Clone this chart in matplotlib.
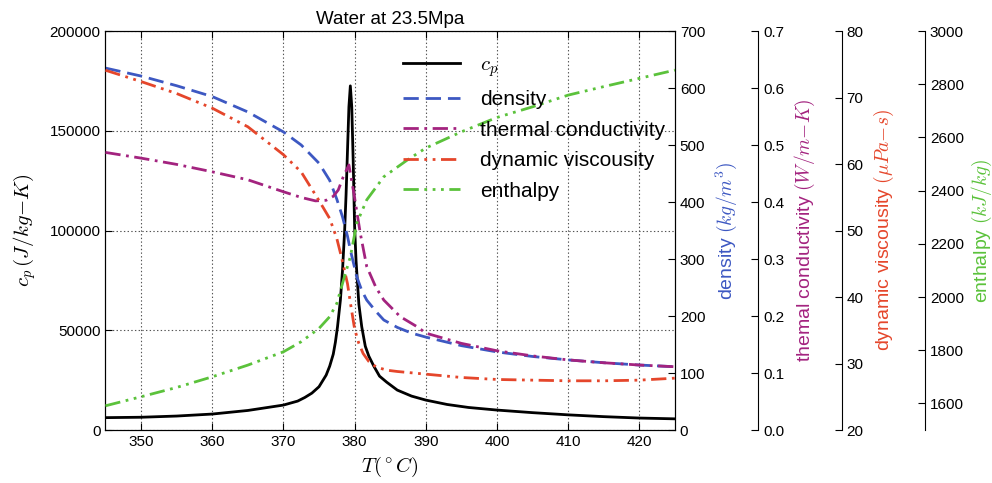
import matplotlib
matplotlib.use("Agg")
import matplotlib.pyplot as plt

plt.rcParams['font.family'] = ['Liberation Sans', 'DejaVu Sans']
plt.rcParams['mathtext.fontset'] = 'cm'
plt.rcParams['lines.scale_dashes'] = False

# ---------------- data ----------------
T_cp = [345, 350, 355, 360, 365, 370, 372, 373, 374, 375, 376, 376.5, 377, 377.3, 377.6,
        378, 378.3, 378.6, 378.8, 379.0, 379.2, 379.4, 379.6, 379.8, 380.0, 380.2, 380.6,
        381.0, 381.5, 382, 382.7, 383.5, 384.5, 386, 388, 390, 393, 396, 400, 405, 410,
        415, 420, 425]
cp = [6200, 6400, 7000, 8000, 9800, 12500, 14500, 16300, 18500, 21700, 27500, 32000,
      38000, 44000, 51800, 65000, 80000, 100000, 118000, 140000, 162000, 172500, 162000,
      135000, 102000, 85000, 63000, 51800, 42000, 37000, 32000, 27000, 24000, 20000,
      17000, 15000, 12800, 11300, 10000, 8700, 7600, 6700, 6000, 5600]

T_rho = [345, 350, 355, 360, 365, 370, 372.5, 375, 376.5, 377.5, 378.3, 379, 379.4,
         380.3, 381, 381.7, 383, 384.1, 386, 388, 390, 395, 400, 405, 410, 415, 420, 425]
density = [635, 621, 604, 585, 558, 523, 500, 468, 438, 405, 374, 340, 316,
           269, 245, 228, 208, 193, 180, 170, 163, 148, 137, 129, 123, 118, 114, 111]

T_k = [345, 350, 355, 360, 365, 370, 372.5, 374.5, 376, 377, 377.7, 378.4, 379.2,
       379.9, 380.8, 381.7, 383, 384.1, 386.4, 388.8, 390, 395, 400, 405, 410, 415, 420, 425]
conductivity = [0.487, 0.477, 0.466, 0.453, 0.439, 0.418, 0.408, 0.402, 0.403, 0.410,
                0.421, 0.444, 0.465, 0.415, 0.345, 0.287, 0.250, 0.228, 0.199, 0.181,
                0.170, 0.152, 0.139, 0.130, 0.123, 0.118, 0.114, 0.111]

T_mu = [345, 350, 355, 360, 365, 370, 372.5, 375, 376.5, 377.5, 378.2, 379, 379.5, 380,
        380.6, 381.2, 382, 383, 384.5, 386, 388, 390, 395, 400, 405, 410, 415, 420, 425]
viscosity = [74.1, 72.4, 70.6, 68.4, 65.6, 61.4, 58.8, 54.5, 51.8, 48.8, 45.8, 42.0,
             38.5, 35.2, 33.0, 31.5, 30.3, 29.5, 29.0, 28.8, 28.6, 28.4, 27.9, 27.6,
             27.5, 27.4, 27.4, 27.5, 27.8]

T_h = [345, 350, 355, 360, 365, 370, 372.5, 375, 376.5, 377.5, 378.5, 379.4, 380.3,
       381.7, 384.1, 387.4, 390, 395, 400, 405, 410, 415, 420, 425]
enthalpy = [1591, 1625, 1660, 1700, 1744, 1794, 1832, 1882, 1926, 1976, 2070, 2151,
            2277, 2365, 2452, 2515, 2560, 2621, 2675, 2715, 2759, 2791, 2822, 2853]

xticks = [350, 360, 370, 380, 390, 400, 410, 420]

# ---------------- colours / styles ----------------
c_rho = '#3d58c2'
c_k = '#a3237f'
c_mu = '#e5462b'
c_h = '#5bc23b'
LW = 2.0

fig = plt.figure(figsize=(9.92, 4.83), dpi=100)
ax = fig.add_axes([0.1063, 0.1097, 0.5741, 0.8261])

l_cp, = ax.plot(T_cp, cp, color='black', lw=LW, label='$c_p$')
ax.set_xlim(345, 425)
ax.set_ylim(0, 200000)
ax.set_xticks(xticks)
ax.set_yticks([0, 50000, 100000, 150000, 200000])
ax.set_xlabel(r'$T(^\circ C)$', fontsize=15)
ax.set_ylabel(r'$c_p\,(J/kg{-}K)$', fontsize=15, labelpad=8)
ax.set_title('Water at 23.5Mpa', fontsize=13.5, pad=5)
ax.grid(True, linestyle=':', color='#555555', linewidth=0.8)
ax.tick_params(axis='x', direction='in', top=True, bottom=True, length=5, labelsize=11)
ax.tick_params(axis='y', direction='in', left=True, right=False, length=5, labelsize=11)

def make_par(pos):
    p = ax.twinx()
    if pos is not None:
        p.spines['right'].set_position(('axes', pos))
        p.set_frame_on(True)
        p.patch.set_visible(False)
        for s in ('left', 'top', 'bottom'):
            p.spines[s].set_visible(False)
    p.tick_params(axis='y', direction='in', length=5, labelsize=11)
    return p

p1 = make_par(None)
p2 = make_par(1.146)
p3 = make_par(1.293)
p4 = make_par(1.439)

l_rho, = p1.plot(T_rho, density, color=c_rho, lw=LW, dashes=(11, 5), label='density')
p1.set_ylim(0, 700)
p1.set_ylabel(r'density $(kg/m^3)$', color=c_rho, fontsize=14, labelpad=6)

l_k, = p2.plot(T_k, conductivity, color=c_k, lw=LW, dashes=(11, 4, 2, 4),
               label='thermal conductivity')
p2.set_ylim(0, 0.7)
p2.set_ylabel(r'themal conductivity $(W/m{-}K)$', color=c_k, fontsize=14, labelpad=6)

l_mu, = p3.plot(T_mu, viscosity, color=c_mu, lw=LW, dashes=(11, 4, 2, 4, 2, 4),
                label='dynamic viscousity')
p3.set_ylim(20, 80)
p3.set_ylabel(r'dynamic viscousity $(\mu Pa{-}s)$', color=c_mu, fontsize=14, labelpad=6)

l_h, = p4.plot(T_h, enthalpy, color=c_h, lw=LW, dashes=(11, 4, 2, 4, 2, 4, 2, 4),
               label='enthalpy')
p4.set_ylim(1500, 3000)
p4.set_yticks([1600, 1800, 2000, 2200, 2400, 2600, 2800, 3000])
p4.set_ylabel(r'enthalpy $(kJ/kg)$', color=c_h, fontsize=14, labelpad=4)

handles = [l_cp, l_rho, l_k, l_mu, l_h]
leg = p4.legend(handles, [h.get_label() for h in handles], loc='upper left',
                bbox_to_anchor=(0.508, 0.96), frameon=False, fontsize=15,
                handlelength=2.75, handletextpad=0.95, labelspacing=0.55,
                borderaxespad=0)

fig.savefig('out.png', dpi=100)
